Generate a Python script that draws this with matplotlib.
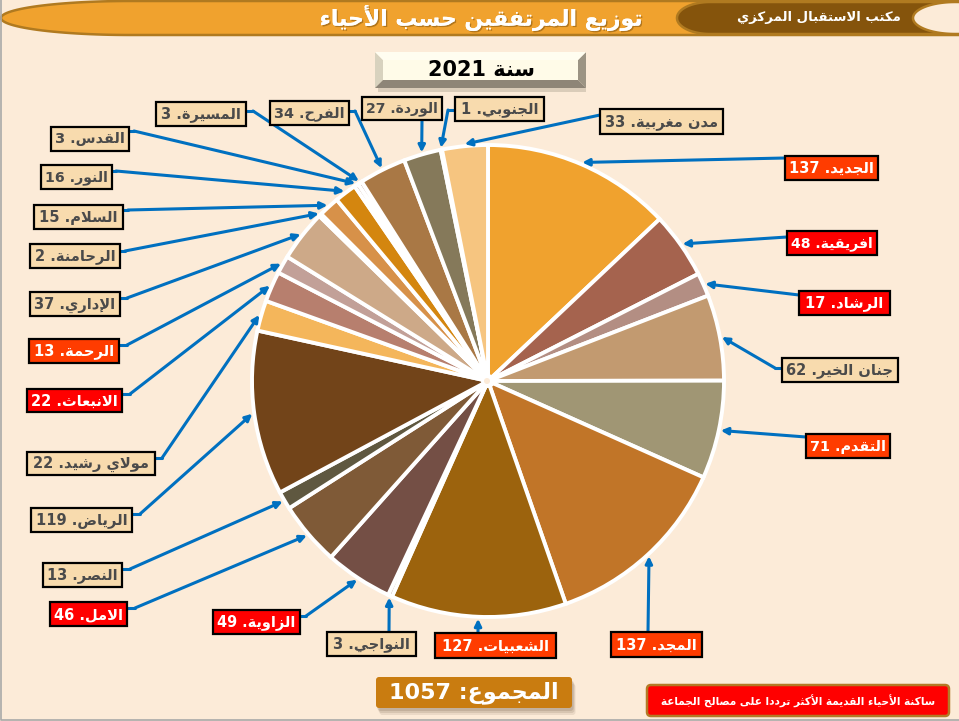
import unicodedata
import numpy as np
import matplotlib
matplotlib.use('Agg')
import matplotlib.pyplot as plt
import matplotlib.patheffects as pe
from matplotlib.patches import Rectangle, Polygon, FancyBboxPatch, Circle

W, H = 959, 721

# data, clockwise from the top of the pie
names = ['الجديد', 'افريقية', 'الرشاد', 'جنان الخير', 'التقدم', 'المجد', 'الشعبيات', 'النواجي',
         'الزاوية', 'الامل', 'النصر', 'الرياض', 'مولاي رشيد', 'الانبعاث', 'الرحمة', 'الإداري',
         'الرحامنة', 'السلام', 'النور', 'القدس', 'المسيرة', 'الفرح', 'الوردة', 'الجنوبي', 'مدن مغربية']
values = [137, 48, 17, 62, 71, 137, 127, 3, 49, 46, 13, 119, 22, 22, 13, 37, 2, 15, 16, 3, 3, 34, 27, 1, 33]
slice_colors = ['#F0A22E', '#A5634E', '#B38E83', '#C29A70', '#A09674', '#C17528', '#9C630D', '#7A5540',
                '#744F45', '#7F5A37', '#5F5840', '#724419', '#F4B65B', '#B77F6E', '#C2A098', '#CDA988',
                '#E6C9A8', '#D79149', '#D4860F', '#8A5A3C', '#7A4A3A', '#A97845', '#85795A', '#B39A6A', '#F6C580']
box_colors = ['#FF3C00', '#FF0000', '#FF0000', '#F8DBAE', '#FF3C00', '#FF3C00', '#FF3C00', '#F8DBAE',
              '#FF0000', '#FF0000', '#F8DBAE', '#F8DBAE', '#F8DBAE', '#FF0000', '#FF3C00', '#F8DBAE',
              '#F8DBAE', '#F8DBAE', '#F8DBAE', '#F8DBAE', '#F8DBAE', '#F8DBAE', '#F8DBAE', '#F8DBAE', '#F8DBAE']

# label boxes in pixels: x0, y0, x1, y1
boxes = [(785, 156, 878, 180), (787, 231, 877, 255), (799, 291, 890, 315), (782, 358, 898, 382),
         (806, 434, 890, 458), (611, 632, 702, 657), (435, 633, 556, 658), (327, 632, 416, 656),
         (213, 610, 300, 634), (50, 602, 127, 626), (43, 563, 122, 587), (31, 508, 132, 532),
         (27, 452, 155, 475), (27, 389, 122, 412), (29, 339, 119, 363), (30, 292, 120, 316),
         (30, 244, 120, 268), (34, 205, 123, 229), (41, 165, 112, 189), (51, 127, 129, 151),
         (156, 102, 246, 126), (270, 101, 349, 125), (362, 97, 442, 120), (455, 97, 544, 121),
         (600, 109, 723, 134)]
# where each leader leaves its box, and its elbow
starts = [(785, 158), (787, 237), (799, 295), (782, 368), (806, 437), (648, 632), (478, 633), (389, 632),
          (300, 616), (127, 608), (122, 569), (132, 514), (155, 458), (122, 394), (119, 345), (120, 298),
          (120, 251), (123, 210), (112, 171), (129, 131), (246, 111), (349, 111), (422, 120), (455, 110),
          (600, 115)]
elbows = [(785, 158), (787, 237), (799, 295), (775, 368), (806, 437), (648, 632), (478, 633), (389, 632),
          (306, 616), (135, 608), (130, 569), (140, 514), (162, 458), (130, 394), (127, 345), (127, 298),
          (125, 251), (128, 210), (116, 171), (134, 131), (253, 111), (355, 111), (422, 120), (448, 110),
          (600, 115)]

title = 'توزيع المرتفقين حسب الأحياء'
office = 'مكتب الاستقبال المركزي'
year_label = 'سنة 2021'
total_label = 'المجموع: 1057'
note = 'ساكنة الأحياء القديمة الأكثر ترددا على مصالح الجماعة'

NO_JOIN_AFTER = set('اأإآدذرزوؤءةى')


def form(ch, kind):
    return unicodedata.lookup(unicodedata.name(ch) + ' ' + kind + ' FORM')


def is_arabic(ch):
    return '\u0621' <= ch <= '\u064a' and ch != '\u0640'


def shape(text):
    # matplotlib does no Arabic shaping, so pick presentation forms and lay out visually
    out = []
    i = 0
    prev_joins = False
    while i < len(text):
        ch = text[i]
        if not is_arabic(ch):
            out.append(ch)
            prev_joins = False
            i += 1
            continue
        nxt = text[i + 1] if i + 1 < len(text) else ''
        if ch == 'ل' and nxt in ('ا', 'أ', 'إ', 'آ'):
            extra = {'ا': '', 'أ': ' WITH HAMZA ABOVE', 'إ': ' WITH HAMZA BELOW', 'آ': ' WITH MADDA ABOVE'}[nxt]
            kind = 'FINAL' if prev_joins else 'ISOLATED'
            out.append(unicodedata.lookup('ARABIC LIGATURE LAM WITH ALEF' + extra + ' ' + kind + ' FORM'))
            prev_joins = False
            i += 2
            continue
        joins_next = ch not in NO_JOIN_AFTER and is_arabic(nxt)
        if prev_joins and joins_next:
            kind = 'MEDIAL'
        elif prev_joins:
            kind = 'FINAL'
        elif joins_next:
            kind = 'INITIAL'
        else:
            kind = 'ISOLATED'
        out.append(form(ch, kind))
        prev_joins = joins_next
        i += 1
    vis = ''.join(out)[::-1]
    # numbers stay left to right
    res = ''
    run = ''
    for c in vis:
        if c.isdigit():
            run += c
        else:
            res += run[::-1] + c
            run = ''
    return res + run[::-1]


plt.rcParams['font.family'] = ['DejaVu Sans']
fig = plt.figure(figsize=(W / 100, H / 100), dpi=100, facecolor='#FCEBD8')

# pie, centred on (488, 381) px
pie_ax = fig.add_axes([248 / W, (H - 621) / H, 480 / W, 480 / H])
wedges, _ = pie_ax.pie(values, radius=236, startangle=90, counterclock=False, colors=slice_colors,
                       wedgeprops=dict(edgecolor='white', linewidth=2.8))
pie_ax.set_xlim(-240, 240)
pie_ax.set_ylim(-240, 240)

# everything else in pixel coordinates
ax = fig.add_axes([0, 0, 1, 1], zorder=5)
ax.set_xlim(0, W)
ax.set_ylim(H, 0)
ax.axis('off')
ax.patch.set_alpha(0)

ax.plot([0.5, 0.5, W], [0, H - 1, H - 1], color='#A9A9A9', lw=1.2, clip_on=False)

ax.add_patch(Circle((488, 381), 7, facecolor='white', edgecolor='none'))
ax.add_patch(Circle((487, 381), 3, facecolor='#FCEBD8', edgecolor='none'))

# header band
RIM = '#B07A20'
t = np.linspace(np.pi / 2, 3 * np.pi / 2, 60)
band = np.column_stack([130 + 129 * np.cos(t), 18 + 17 * np.sin(t)])
band = np.vstack([band, [[W + 3, 1], [W + 3, 35]]])
ax.add_patch(Polygon(band, closed=True, facecolor='#F0A22E', edgecolor=RIM, lw=1.8))
dark = np.column_stack([710 + 33 * np.cos(t), 18 + 16 * np.sin(t)])
dark = np.vstack([dark, [[W + 3, 2], [W + 3, 34]]])
ax.add_patch(Polygon(dark, closed=True, facecolor='#85540C', edgecolor=RIM, lw=1.8))
pale = np.column_stack([955 + 42 * np.cos(t), 18 + 16 * np.sin(t)])
pale = np.vstack([pale, [[W + 3, 2], [W + 3, 34]]])
ax.add_patch(Polygon(pale, closed=True, facecolor='#FCEBD8', edgecolor=RIM, lw=1.8))
ax.text(481, 18, shape(title), color='white', fontsize=15.8, fontweight='bold', ha='center', va='center',
        path_effects=[pe.withSimplePatchShadow(offset=(1, -1), shadow_rgbFace='#8A5A10', alpha=0.6), pe.Normal()])
ax.text(819, 18, shape(office), color='white', fontsize=9.5, fontweight='bold', ha='center', va='center')

# year button with bevel
ax.add_patch(Rectangle((378, 86), 208, 6, facecolor='#B9AE9C', edgecolor='none', alpha=0.5))
ax.add_patch(Polygon([(375, 52), (383, 60), (383, 80), (375, 88)], facecolor='#D8D2BE', edgecolor='none'))
ax.add_patch(Polygon([(586, 52), (578, 60), (578, 80), (586, 88)], facecolor='#9C9484', edgecolor='none'))
ax.add_patch(Polygon([(375, 88), (383, 80), (578, 80), (586, 88)], facecolor='#8E8577', edgecolor='none'))
ax.add_patch(Polygon([(375, 52), (586, 52), (578, 60), (383, 60)], facecolor='#FFFDF0', edgecolor='none'))
ax.add_patch(Rectangle((383, 60), 195, 20, facecolor='#FFFBE8', edgecolor='none'))
ax.text(481, 70, shape(year_label), color='black', fontsize=15, fontweight='bold', ha='center', va='center')

renderer = fig.canvas.get_renderer()

# leaders and labels
for name, val, wedge, box, col, start, elbow in zip(names, values, wedges, boxes, box_colors, starts, elbows):
    mid = np.radians((wedge.theta1 + wedge.theta2) / 2)
    tip = (488 + 238 * np.cos(mid), 381 - 238 * np.sin(mid))
    ax.plot([start[0], elbow[0]], [start[1], elbow[1]], color='#0070C0', lw=2.2, zorder=3,
            solid_capstyle='round')
    ax.annotate('', xy=tip, xytext=elbow, zorder=3,
                arrowprops=dict(arrowstyle='-|>', color='#0070C0', lw=2.2, mutation_scale=10,
                                shrinkA=0, shrinkB=0))
    x0, y0, x1, y1 = box
    ax.add_patch(Rectangle((x0, y0), x1 - x0, y1 - y0, facecolor=col, edgecolor='black', lw=1.6, zorder=4))
    txt_col = '#4A4A4A' if col == '#F8DBAE' else 'white'
    lab = ax.text((x0 + x1) / 2, (y0 + y1) / 2 + 0.5, shape(name + '. ' + str(val)), color=txt_col,
                  fontsize=10.5, fontweight='bold', ha='center', va='center', zorder=5)
    # shrink the text a little where the box is tight
    room = x1 - x0 - 8
    width = lab.get_window_extent(renderer).width
    if width > room:
        lab.set_fontsize(10.5 * room / width)

# total box
for k, a in zip((7, 5, 3), (0.15, 0.2, 0.25)):
    ax.add_patch(FancyBboxPatch((376 + k / 2, 677 + k), 196, 31, boxstyle='round,pad=0,rounding_size=3',
                                facecolor='#8A7560', edgecolor='none', alpha=a))
ax.add_patch(FancyBboxPatch((376, 677), 196, 31, boxstyle='round,pad=0,rounding_size=3',
                            facecolor='#C97C10', edgecolor='none'))
ax.text(474, 693, shape(total_label), color='white', fontsize=16, fontweight='bold', ha='center', va='center')

# note box
ax.add_patch(FancyBboxPatch((647, 685), 302, 31, boxstyle='round,pad=0,rounding_size=4',
                            facecolor='#FF0000', edgecolor='#B37A26', lw=1.8))
ax.text(798, 701, shape(note), color='white', fontsize=7.6, fontweight='bold', ha='center', va='center')

fig.savefig('out.png', dpi=100, facecolor=fig.get_facecolor())
